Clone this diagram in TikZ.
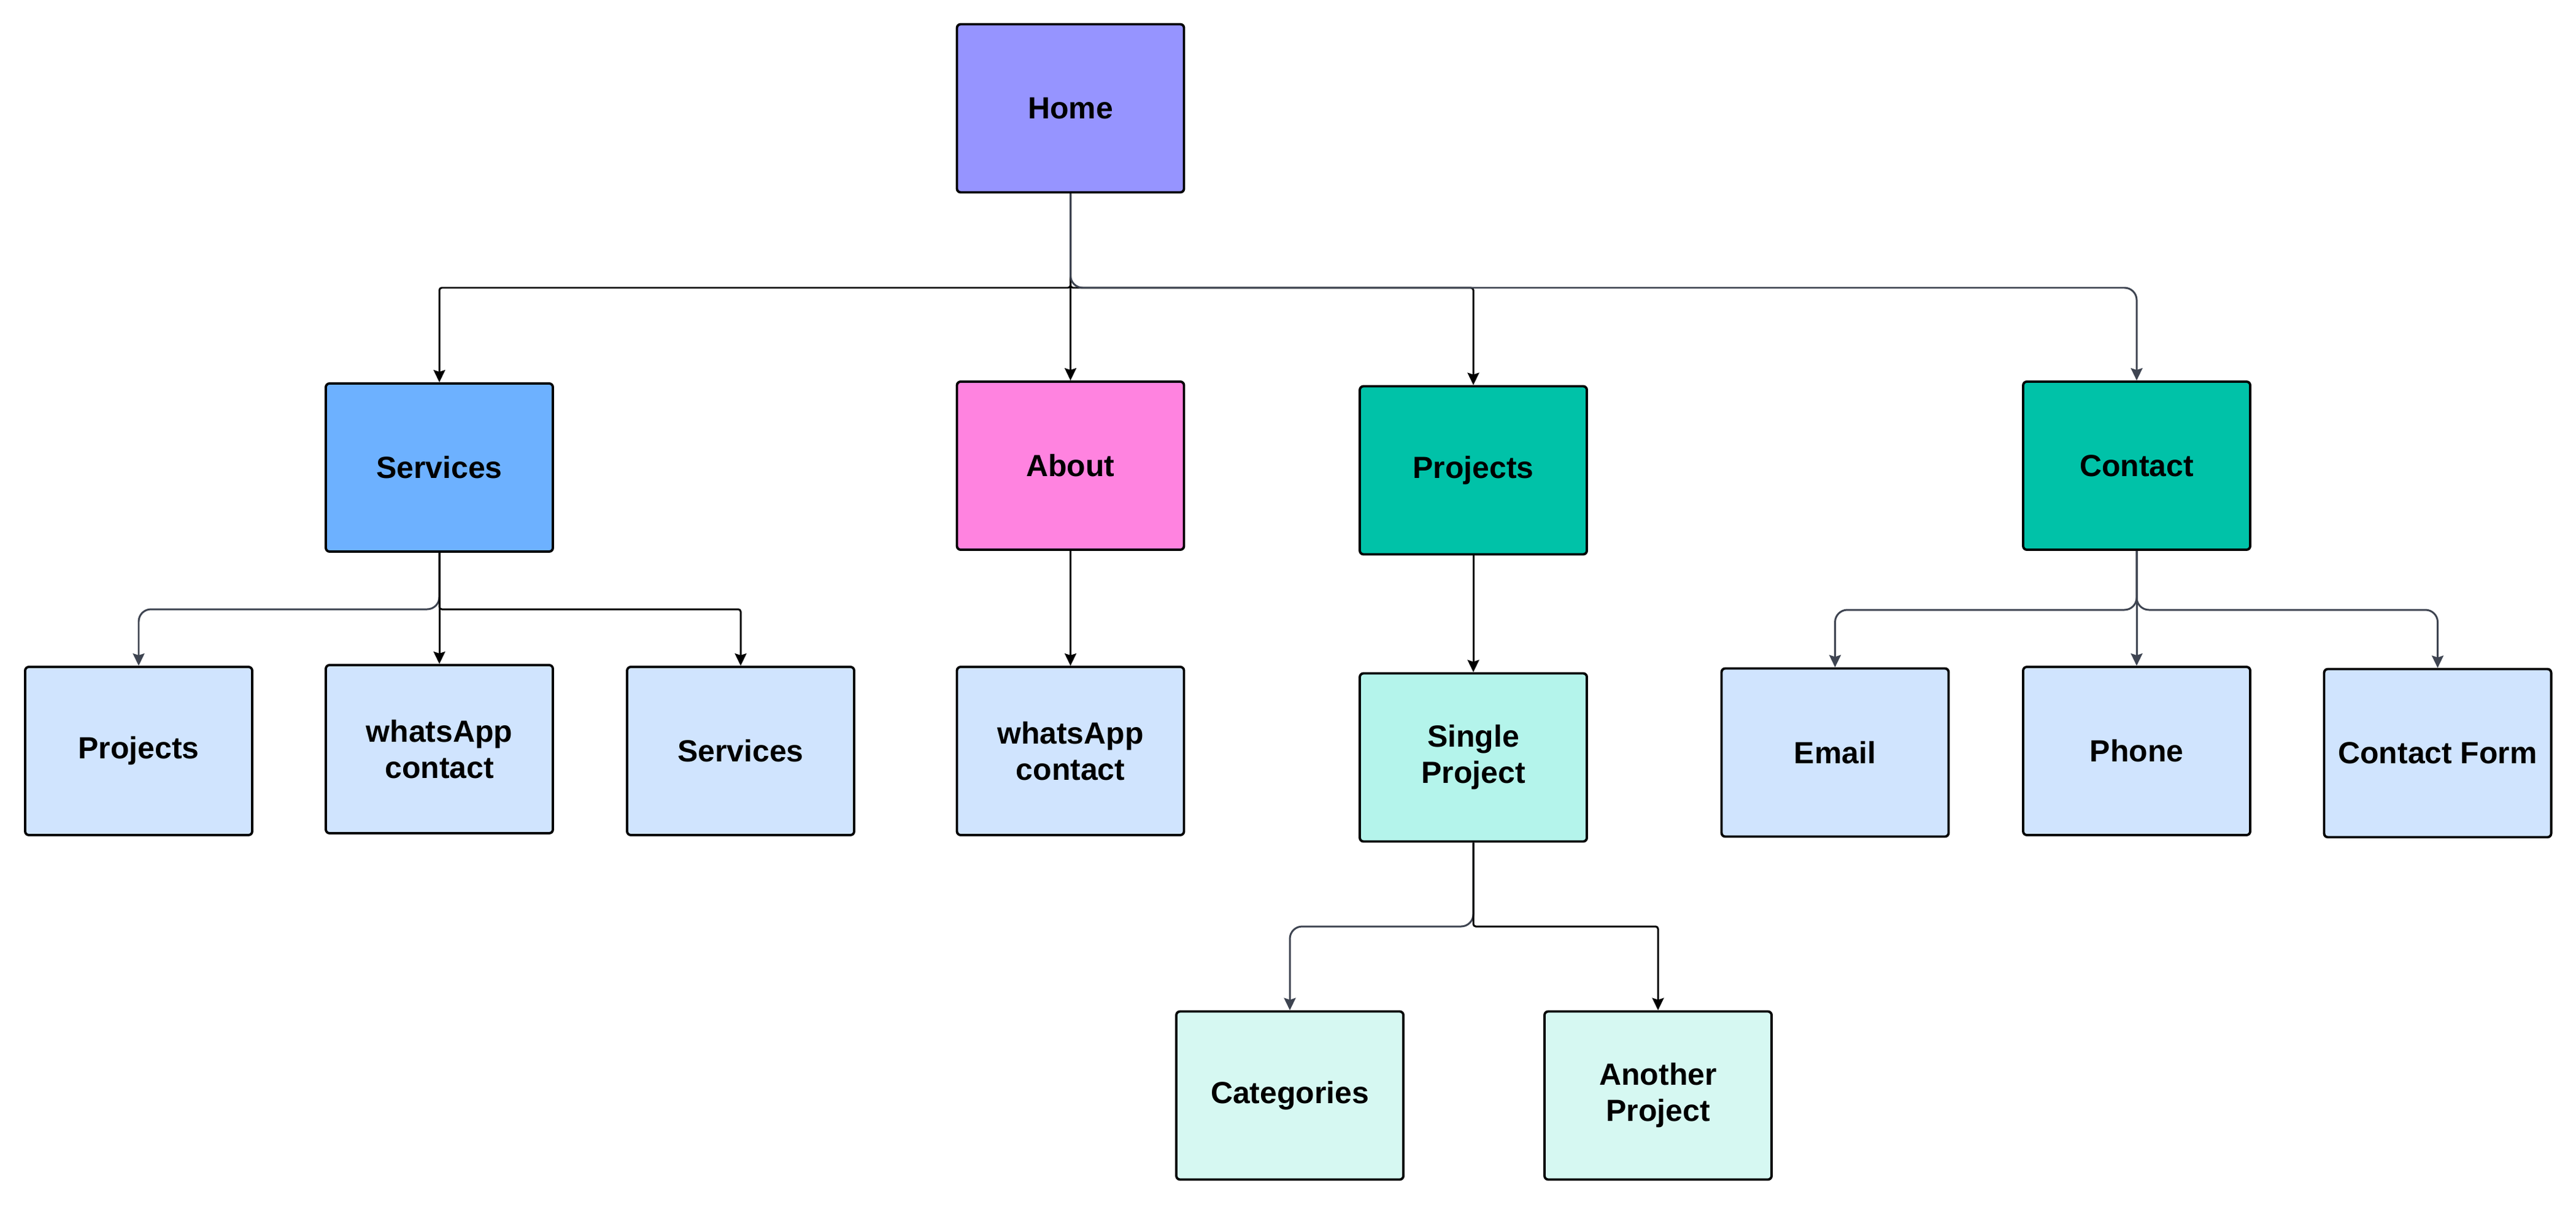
\documentclass[tikz,border=0pt]{standalone}
\usepackage{fontspec}
\setmainfont{Liberation Sans}
\usetikzlibrary{arrows.meta}
\definecolor{homefill}{HTML}{9694FF}
\definecolor{servfill}{HTML}{6DB1FF}
\definecolor{aboutfill}{HTML}{FF83E0}
\definecolor{tealfill}{HTML}{00C2A8}
\definecolor{singlefill}{HTML}{B4F4EB}
\definecolor{mintfill}{HTML}{D6F8F2}
\definecolor{paleblue}{HTML}{D0E4FE}
\definecolor{wire}{HTML}{3E4451}

\begin{document}
\begin{tikzpicture}[>={Stealth[length=0.2cm,width=0.19cm,inset=0.03cm]},
    page/.style={draw=black,line width=1.1pt,rounded corners=0.06cm,
        minimum width=3.70cm,minimum height=2.74cm,inner sep=0pt,align=center,
        font=\fontsize{14.2}{16.8}\selectfont\bfseries},
    link/.style={->,draw=black,line width=0.85pt,rounded corners=0.04cm},
    softlink/.style={->,draw=wire,line width=0.85pt,rounded corners=0.2cm}]
                \useasboundingbox (0,0) rectangle (41.98,-19.63);
                \node[page,fill=homefill] (home) at (17.445,-1.765) {Home};
                \node[page,fill=servfill] (services) at (7.16,-7.62) {Services};
                \node[page,fill=aboutfill] (about) at (17.445,-7.59) {About};
                \node[page,fill=tealfill] (projects) at (24.01,-7.665) {Projects};
                \node[page,fill=tealfill] (contact) at (34.82,-7.59) {Contact};
                \node[page,fill=paleblue] (servprojects) at (2.26,-12.24) {Projects};
                \node[page,fill=paleblue] (servwhats) at (7.16,-12.21) {whatsApp\\contact};
                \node[page,fill=paleblue] (servservices) at (12.07,-12.24) {Services};
                \node[page,fill=paleblue] (aboutwhats) at (17.445,-12.24) {whatsApp\\contact};
                \node[page,fill=singlefill] (single) at (24.01,-12.345) {Single\\Project};
                \node[page,fill=paleblue] (email) at (29.905,-12.265) {Email};
                \node[page,fill=paleblue] (phone) at (34.82,-12.24) {Phone};
                \node[page,fill=paleblue] (form) at (39.725,-12.275) {Contact Form};
                \node[page,fill=mintfill] (categories) at (21.02,-17.855) {Categories};
                \node[page,fill=mintfill] (another) at (27.02,-17.855) {Another\\Project};
                \coordinate (homebus) at (0,-4.69);
                \coordinate (servbus) at (0,-9.93);
                \coordinate (contbus) at (0,-9.94);
                \coordinate (singlebus) at (0,-15.10);
                \draw[link] (home.south) -- (home.south |- homebus) -| (services.north);
                \draw[link] (home.south) -- (about.north);
                \draw[link] (home.south) -- (home.south |- homebus) -| (projects.north);
                \draw[softlink] (home.south) -- (home.south |- homebus) -| (contact.north);
                \draw[softlink] (services.south) -- (services.south |- servbus) -| (servprojects.north);
                \draw[link] (services.south) -- (servwhats.north);
                \draw[link] (services.south) -- (services.south |- servbus) -| (servservices.north);
                \draw[link] (about.south) -- (aboutwhats.north);
                \draw[link] (projects.south) -- (single.north);
                \draw[softlink] (single.south) -- (single.south |- singlebus) -| (categories.north);
                \draw[link] (single.south) -- (single.south |- singlebus) -| (another.north);
                \draw[softlink] (contact.south) -- (contact.south |- contbus) -| (email.north);
                \draw[softlink] (contact.south) -- (phone.north);
                \draw[softlink] (contact.south) -- (contact.south |- contbus) -| (form.north);
            \end{tikzpicture}
\end{document}
